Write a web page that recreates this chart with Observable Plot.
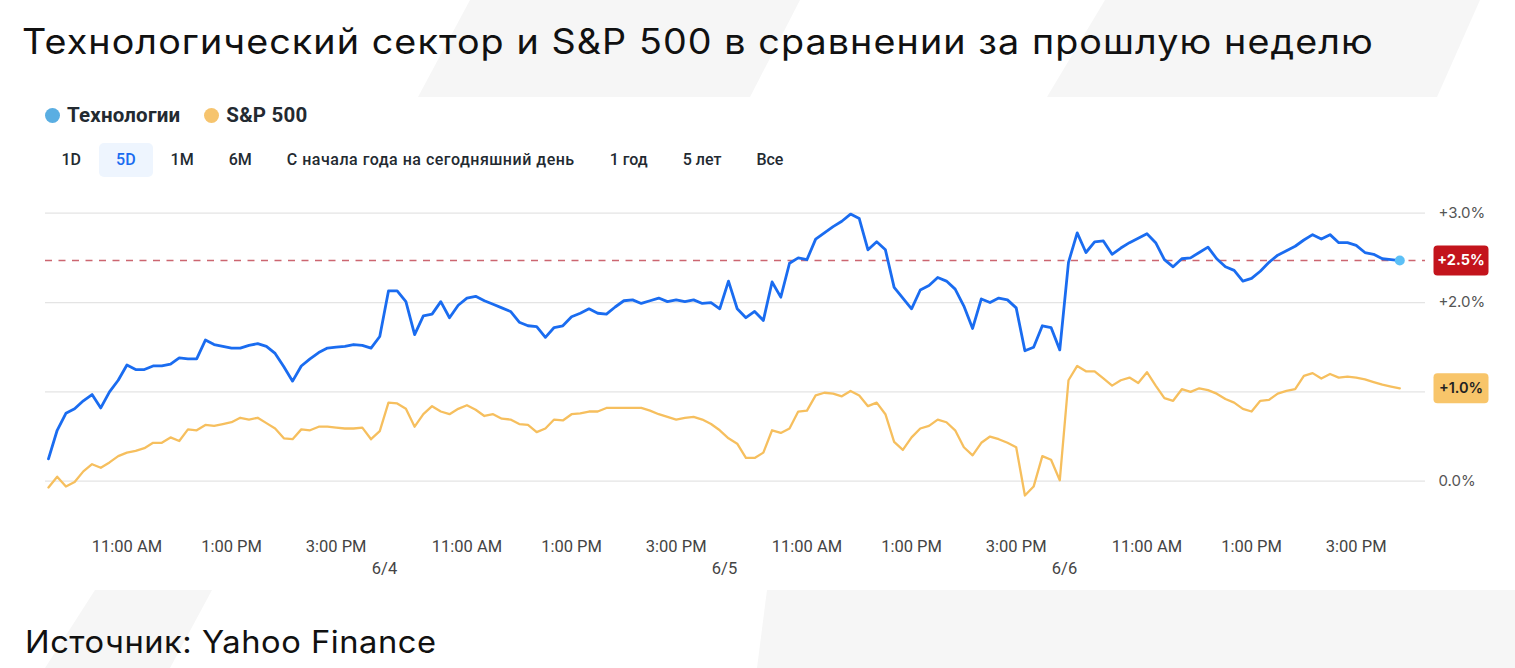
<!DOCTYPE html>
<html><head><meta charset="utf-8">
<script src="https://cdn.jsdelivr.net/npm/d3@7"></script>
<script src="https://cdn.jsdelivr.net/npm/@observablehq/plot@0.6"></script>
<style>
body{margin:0;background:#fff;}
#page{position:relative;width:1515px;height:668px;overflow:hidden;background:#fff;font-family:Roboto,sans-serif;}
.bg{position:absolute;background:#f6f6f6;}
#title{position:absolute;left:22px;top:24px;font-family:Inter,sans-serif;font-size:35px;line-height:35px;color:#111;white-space:nowrap;letter-spacing:1px;transform:scaleX(1.077);transform-origin:0 0;}
#caption{position:absolute;left:25px;top:626px;font-family:Inter,sans-serif;font-size:31px;line-height:31px;color:#111;white-space:nowrap;letter-spacing:0.5px;transform:scaleX(1.054);transform-origin:0 0;}
#legend{position:absolute;left:45px;top:103px;display:flex;align-items:center;height:24px;}
.li{display:flex;align-items:center;margin-right:24px;font-weight:700;font-size:20.5px;color:#232a31;letter-spacing:0.2px;}
.sw{width:15px;height:15px;border-radius:50%;margin-right:7px;}
#tabs{position:absolute;left:44px;top:143px;display:flex;}
.tab{padding:0 17.5px;height:34px;line-height:34px;font-size:16px;font-weight:500;color:#232a31;border-radius:5px;white-space:nowrap;}
.tab.long{letter-spacing:0.5px;}
.tab.on{background:#eef5fe;color:#1a6cf0;}
#chart{position:absolute;left:0;top:190px;}
</style></head>
<body>
<div id="page">
  <div class="bg" style="clip-path:polygon(470px 0,800px 0,750px 97px,418px 97px);left:0;top:0;width:1515px;height:100px;"></div>
  <div class="bg" style="clip-path:polygon(1105px 0,1480px 0,1437px 97px,1047px 97px);left:0;top:0;width:1515px;height:100px;"></div>
  <div class="bg" style="clip-path:polygon(95px 590px,212px 590px,170px 668px,45px 668px);left:0;top:0;width:1515px;height:668px;"></div>
  <div class="bg" style="clip-path:polygon(767px 590px,1515px 590px,1515px 668px,757px 668px);left:0;top:0;width:1515px;height:668px;"></div>
  <div id="title"></div>
  <div id="legend"></div>
  <div id="tabs"></div>
  <div id="chart"></div>
  <div id="caption"></div>
</div>
<script>
// ---- data ----
const titleText = "Технологический сектор и S&P 500 в сравнении за прошлую неделю";
const captionText = "Источник: Yahoo Finance";
const seriesNames = ["Технологии", "S&P 500"];
const tabLabels = ["1D", "5D", "1M", "6M", "С начала года на сегодняшний день", "1 год", "5 лет", "Все"];
const activeTab = "5D";
const dayLabels = ["6/3", "6/4", "6/5", "6/6"];
const timeTickLabels = ["11:00 AM", "1:00 PM", "3:00 PM"];
const timeTickMinutes = [90, 210, 330];   // minutes after 9:30 open
const stepMinutes = 10;                   // sampling step of the series
const sessionMinutes = 390;               // 9:30 - 16:00
const yTicks = [0, 1, 2, 3];

// % change, one value every 10 trading minutes, 6/3 9:30 -> 6/6 ~15:50
const tech = [
  0.25,0.57,0.76,0.81,0.90,0.97,0.82,1.00,1.13,1.30,
  1.25,1.25,1.29,1.29,1.31,1.38,1.37,1.37,1.58,1.53,
  1.51,1.49,1.49,1.52,1.54,1.51,1.43,1.28,1.12,1.29,
  1.37,1.44,1.49,1.50,1.51,1.53,1.52,1.49,1.62,
  2.13,
  2.13,2.01,1.64,1.85,1.87,2.01,1.83,1.97,2.05,2.07,
  2.02,1.98,1.94,1.90,1.78,1.74,1.73,1.61,1.72,1.74,
  1.84,1.88,1.93,1.88,1.87,1.95,2.02,2.03,1.99,2.02,
  2.05,2.01,2.03,2.01,2.03,1.99,2.00,1.93,2.24,
  1.93,1.83,1.90,1.80,2.23,2.06,2.44,2.50,2.48,2.71,
  2.78,2.85,2.91,2.99,2.94,2.59,2.68,2.59,2.17,2.05,
  1.93,2.14,2.19,2.28,2.24,2.15,1.96,1.71,2.04,2.00,
  2.05,2.03,1.94,1.46,1.50,1.74,1.72,1.47,2.45,
  2.78,2.56,2.68,2.69,2.54,2.61,2.67,2.72,2.77,
  2.67,2.48,2.40,2.49,2.50,2.56,2.62,2.49,2.40,2.36,
  2.24,2.27,2.35,2.45,2.53,2.58,2.63,2.70,2.76,2.71,
  2.76,2.67,2.67,2.64,2.56,2.54,2.49,2.48,2.47
];
const sp500 = [
  -0.07,0.05,-0.06,-0.01,0.11,0.19,0.15,0.21,0.28,0.32,0.34,
  0.37,0.43,0.43,0.49,0.45,0.58,0.57,0.63,0.62,0.64,
  0.66,0.71,0.69,0.71,0.65,0.59,0.48,0.47,0.58,0.57,
  0.61,0.61,0.60,0.59,0.59,0.60,0.47,0.56,0.88,
  0.87,0.81,0.61,0.75,0.84,0.78,0.75,0.81,0.85,0.80,
  0.73,0.75,0.70,0.69,0.64,0.63,0.55,0.59,0.69,0.68,
  0.75,0.76,0.78,0.78,0.82,0.82,0.82,0.82,0.82,0.79,
  0.75,0.72,0.69,0.71,0.72,0.69,0.64,0.57,0.48,
  0.42,0.26,0.26,0.32,0.57,0.54,0.59,0.78,0.79,0.96,
  0.99,0.98,0.95,1.01,0.96,0.84,0.88,0.75,0.44,0.35,
  0.49,0.59,0.62,0.69,0.66,0.57,0.38,0.29,0.43,0.50,
  0.47,0.43,0.38,-0.16,-0.06,0.28,0.24,0.01,1.13,
  1.29,1.23,1.23,1.15,1.07,1.13,1.16,1.10,1.22,
  1.07,0.93,0.90,1.03,1.00,1.04,1.02,0.98,0.92,0.88,
  0.81,0.78,0.90,0.91,0.98,1.01,1.03,1.18,1.21,1.15,
  1.20,1.16,1.17,1.16,1.14,1.11,1.08,1.06,1.04
];

// ---- styles ----
const colors = {tech: "#1a6cf0", sp: "#f6bf5e", techDot: "#5cc0f6", refLine: "#cc6670", redBadge: "#c3141c", orangeBadge: "#f8c56a"};

// ---- html parts ----
document.getElementById("title").textContent = titleText;
document.getElementById("caption").textContent = captionText;
const legend = document.getElementById("legend");
[["#5aaee2", seriesNames[0]], ["#f6c46e", seriesNames[1]]].forEach(([c, n]) => {
  const d = document.createElement("div"); d.className = "li";
  d.innerHTML = `<span class="sw" style="background:${c}"></span>`;
  d.appendChild(document.createTextNode(n));
  legend.appendChild(d);
});
const tabs = document.getElementById("tabs");
tabLabels.forEach(t => {
  const d = document.createElement("div");
  d.className = "tab" + (t === activeTab ? " on" : "") + (t.length > 10 ? " long" : "");
  d.textContent = t;
  tabs.appendChild(d);
});

// ---- chart data ----
const perDay = sessionMinutes / stepMinutes;   // 39 steps per session
const techData = tech.map((v, i) => ({i, v}));
const spData = sp500.map((v, i) => ({i, v}));
const lastTech = techData[techData.length - 1];
const lastSp = spData[spData.length - 1];
const timeTicks = [];
dayLabels.forEach((d, di) => timeTickMinutes.forEach((m, k) => timeTicks.push({i: di * perDay + m / stepMinutes, label: timeTickLabels[k]})));
const dayTicks = dayLabels.slice(1).map((d, k) => ({i: (k + 1) * perDay, label: d}));
const fmt = v => (v === 0 ? "" : "+") + v.toFixed(1) + "%";
// axis labels hidden behind the value badges are not drawn
const axisTicks = yTicks.filter(t => Math.abs(t - lastSp.v) > 0.17 && Math.abs(t - lastTech.v) > 0.17);

const badge = {
  draw(ctx) {
    const w = 55, h = 30, r = 4, x0 = -w / 2, y0 = -h / 2;
    ctx.moveTo(x0 + r, y0);
    ctx.lineTo(x0 + w - r, y0); ctx.arcTo(x0 + w, y0, x0 + w, y0 + r, r);
    ctx.lineTo(x0 + w, y0 + h - r); ctx.arcTo(x0 + w, y0 + h, x0 + w - r, y0 + h, r);
    ctx.lineTo(x0 + r, y0 + h); ctx.arcTo(x0, y0 + h, x0, y0 + h - r, r);
    ctx.lineTo(x0, y0 + r); ctx.arcTo(x0, y0, x0 + r, y0, r);
    ctx.closePath();
  }
};

const nSteps = dayLabels.length * perDay;
const chart = Plot.plot({
  width: 1515, height: 400,
  marginLeft: 45, marginRight: 90, marginTop: 22.7, marginBottom: 109.3,
  x: {domain: [-0.34, nSteps + 1.95], axis: null},
  y: {domain: [0, 3], axis: null},
  style: {fontFamily: "Roboto, sans-serif", fontSize: "14px", background: "transparent", overflow: "visible"},
  marks: [
    Plot.ruleY(yTicks, {stroke: "#e4e4e4", strokeWidth: 1.2}),
    Plot.text(axisTicks, {y: d => d, text: fmt, frameAnchor: "right", dx: 13, textAnchor: "start", fill: "#555", fontSize: 15, fontFamily: "Inter, sans-serif"}),
    Plot.ruleY([lastTech.v], {stroke: colors.refLine, strokeDasharray: "7,6.5", strokeWidth: 1.4}),
    Plot.line(spData, {x: "i", y: "v", stroke: colors.sp, strokeWidth: 2.3}),
    Plot.line(techData, {x: "i", y: "v", stroke: colors.tech, strokeWidth: 2.8}),
    Plot.dot([lastTech], {x: "i", y: "v", r: 5, fill: colors.techDot}),
    Plot.dot([lastTech], {y: "v", frameAnchor: "right", dx: 35.5, symbol: badge, fill: colors.redBadge}),
    Plot.text([lastTech], {y: "v", text: d => fmt(d.v), frameAnchor: "right", dx: 35.5, textAnchor: "middle", fill: "#fff", fontWeight: "bold", fontSize: 14.5, fontFamily: "Inter, sans-serif"}),
    Plot.dot([lastSp], {y: "v", frameAnchor: "right", dx: 35.5, symbol: badge, fill: colors.orangeBadge}),
    Plot.text([lastSp], {y: "v", text: d => fmt(d.v), frameAnchor: "right", dx: 35.5, textAnchor: "middle", fill: "#222", fontWeight: 600, fontSize: 14.5, fontFamily: "Inter, sans-serif"}),
    Plot.text(timeTicks, {x: "i", text: "label", frameAnchor: "bottom", dy: 71, fill: "#444", fontSize: 16.5}),
    Plot.text(dayTicks, {x: "i", text: "label", frameAnchor: "bottom", dy: 93, dx: -4, fill: "#444", fontSize: 16.5})
  ]
});
document.getElementById("chart").appendChild(chart);
</script>
</body></html>
